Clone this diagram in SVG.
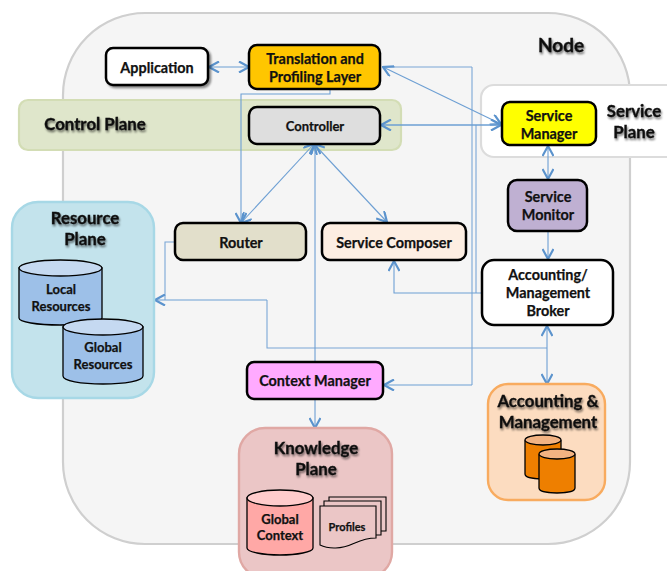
<svg xmlns="http://www.w3.org/2000/svg" width="667" height="571" viewBox="0 0 667 571">
<defs>
<filter id="ts" x="-20%" y="-30%" width="140%" height="170%"><feGaussianBlur in="SourceAlpha" stdDeviation="1.1"/><feOffset dx="1" dy="1.5"/><feComponentTransfer><feFuncA type="linear" slope=".55"/></feComponentTransfer><feMerge><feMergeNode/><feMergeNode in="SourceGraphic"/></feMerge></filter>
<filter id="bs" x="-10%" y="-15%" width="120%" height="135%"><feGaussianBlur in="SourceAlpha" stdDeviation="1.2"/><feOffset dx="1.5" dy="1.5"/><feComponentTransfer><feFuncA type="linear" slope=".45"/></feComponentTransfer><feMerge><feMergeNode/><feMergeNode in="SourceGraphic"/></feMerge></filter>
<marker id="a" viewBox="0 0 12 12" refX="11" refY="6" markerWidth="12" markerHeight="12" markerUnits="userSpaceOnUse" orient="auto-start-reverse"><path d="M1 .5L11 6L1 11.500" fill="none" stroke="#5b93cd" stroke-width="2.200"/></marker>
</defs>
<style>
text{font-family:Lato,"Liberation Sans",sans-serif;font-weight:700;text-anchor:middle;fill:#111;stroke:#111;stroke-width:.25}
.n{stroke:#000;stroke-width:2.500}
.t{font-size:14.4px}
.s{font-size:13px}
.h{font-size:16.8px;filter:url(#ts);stroke-width:.35}
.c{fill:none;stroke:#6d9fd3;stroke-width:1.100;marker-end:url(#a)}
.b{marker-start:url(#a)}
.e{fill:none;stroke:#7aa6d6;stroke-width:1.100}
.cy{stroke:#000;stroke-width:1.300}
</style>
<g id="node"><rect x="63" y="13" width="567" height="531" rx="82" fill="#f5f5f5" stroke="#cfcfcf" stroke-width="2.200"/><text class="h" x="561" y="52" style="font-size:19px">Node</text></g>
<g id="control-plane"><rect x="19" y="100" width="382" height="50" rx="9" fill="#dfe6cb" stroke="#d3ddb5" stroke-width="2.200"/><text class="h" x="95" y="130">Control Plane</text></g>
<g id="service-plane"><rect x="481" y="85" width="200" height="72" rx="13" fill="#fff" stroke="#dcdcdc" stroke-width="2.200"/><text class="h" x="634" y="117">Service</text><text class="h" x="634" y="138">Plane</text></g>
<g id="connectors">
<path class="e" d="M472 67H383M472 67V385"/>
<path class="e" d="M476 125V293"/>
<path class="e" d="M547 348H267V300"/>
<path class="e" d="M175 242H165V300"/>
<path class="c b" d="M209 67H249"/>
<path class="c b" d="M383 67L501 124"/>
<path class="c b" d="M381 125H501" style="stroke-width:1.600"/>
<path class="c b" d="M241 223L314 144"/>
<path class="c" d="M314 144L387 222" style="marker-start:url(#a)"/>
<path class="c" d="M315 362V144"/>
<path class="c" d="M330 89V94H241V223"/>
<path class="c" d="M267 300H155"/>
<path class="c" d="M472 385H384"/>
<path class="c" d="M482 293H394V261"/>
<path class="c b" d="M548 146V179"/>
<path class="c" d="M548 231V259"/>
<path class="c b" d="M547 326V384"/>
<path class="c" d="M315 399V428"/>
</g>
<g id="application"><rect class="n" x="106" y="48" width="102" height="37" rx="7" fill="#fff" filter="url(#bs)"/><text class="t" x="157" y="73">Application</text></g>
<g id="translation"><rect class="n" x="249" y="45" width="131" height="44" rx="8" fill="#ffc600"/><text class="t" x="315" y="64">Translation and</text><text class="t" x="315" y="82">Profiling Layer</text></g>
<g id="controller"><rect class="n" x="249" y="107" width="131" height="37" rx="8" fill="#dedede"/><text class="s" x="315" y="131">Controller</text></g>
<g id="service-manager"><rect class="n" x="502" y="102" width="94" height="43" rx="8" fill="#ffff00"/><text class="t" x="549" y="121">Service</text><text class="t" x="549" y="139">Manager</text></g>
<g id="service-monitor"><rect class="n" x="508" y="180" width="79" height="51" rx="9" fill="#bfb0d2"/><text class="t" x="548" y="202">Service</text><text class="t" x="548" y="220">Monitor</text></g>
<g id="router"><rect class="n" x="175" y="223" width="131" height="37" rx="8" fill="#e2dfcb"/><text class="t" x="241" y="248">Router</text></g>
<g id="service-composer"><rect class="n" x="322" y="223" width="144" height="37" rx="8" fill="#fdeee2"/><text class="t" x="394" y="248">Service Composer</text></g>
<g id="broker"><rect class="n" x="482" y="260" width="131" height="65" rx="12" fill="#fff"/><text class="t" x="548" y="280">Accounting/</text><text class="t" x="548" y="298">Management</text><text class="t" x="548" y="316">Broker</text></g>
<g id="context-manager"><rect class="n" x="247" y="362" width="136" height="37" rx="7" fill="#ffaaff"/><text class="t" x="315" y="386">Context Manager</text></g>
<g id="resource-plane"><rect x="12" y="202" width="142" height="196" rx="26" fill="#c3e3ec" stroke="#a7d8e6" stroke-width="2.400"/><text class="h" x="85" y="224">Resource</text><text class="h" x="85" y="245">Plane</text></g>
<g id="local-resources"><path class="cy" d="M19 268V318C19 322 37 325 60 325S102 322 102 318V268Z" fill="#9dc0e8"/><ellipse class="cy" cx="60.500" cy="268" rx="41.500" ry="8" fill="#c5d9f1"/><text class="s" x="61" y="294">Local</text><text class="s" x="61" y="311">Resources</text></g>
<g id="global-resources"><path class="cy" d="M63 327V376C63 381 81 384 103 384S143 381 143 376V327Z" fill="#9dc0e8"/><ellipse class="cy" cx="103" cy="327" rx="40" ry="8" fill="#c5d9f1"/><text class="s" x="103" y="352">Global</text><text class="s" x="103" y="369">Resources</text></g>
<g id="knowledge-plane"><rect x="239" y="428" width="153" height="150" rx="26" fill="#ebc6c6" stroke="#e0a8a4" stroke-width="2.400"/><text class="h" x="316" y="454">Knowledge</text><text class="h" x="316" y="475">Plane</text></g>
<g id="global-context"><path class="cy" d="M247 498V548C247 552 263 555 280 555S313 552 313 548V498Z" fill="#ffa8a6"/><ellipse class="cy" cx="280" cy="498" rx="33" ry="8" fill="#ffcccc"/><text class="s" x="280" y="524">Global</text><text class="s" x="280" y="540">Context</text></g>
<g id="profiles" fill="#ebc6c6" stroke="#000" stroke-width="1.100"><path d="M329 497H386V531H329Z"/><path d="M324 501H381V535H324Z"/><path d="M320 506H376V538C356 538 352 549 334 548C328 548 324 547 320 545Z"/><text x="347" y="531" style="font-size:11px">Profiles</text></g>
<g id="accounting"><rect x="488" y="384" width="117" height="116" rx="20" fill="#fcdcc0" stroke="#f8ab5f" stroke-width="2.400"/><text class="h" x="548" y="407">Accounting &amp;</text><text class="h" x="548" y="428">Management</text>
<path class="cy" d="M525 441V474C525 478 536 479 543 479S561 478 561 474V441Z" fill="#ee7f00"/><ellipse class="cy" cx="543" cy="440" rx="18" ry="5" fill="#f2b382"/>
<path class="cy" d="M539 455V488C539 492 550 493 557 493S575 492 575 488V455Z" fill="#ee7f00"/><ellipse class="cy" cx="557" cy="454" rx="18" ry="5" fill="#f2b382"/></g>
</svg>
